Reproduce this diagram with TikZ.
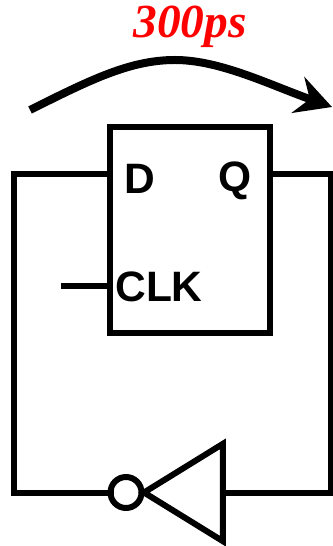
\documentclass[tikz,border=0pt]{standalone}
\usepackage{fontspec}
\setmainfont{Liberation Sans}
\newfontfamily\delayfont{Liberation Serif}
\usetikzlibrary{arrows.meta,shapes.geometric}
\tikzset{
    wire/.style={
        line width=0.12cm,
        line cap=rect,
        line join=miter
    },
    ffbox/.style={
        rectangle,
        draw,
        line width=0.12cm,
        minimum width=3.2cm,
        minimum height=4.12cm,
        outer sep=0pt
    },
    pin/.style={
        font=\bfseries\fontsize{24.2}{26}\selectfont,
        inner sep=0pt
    },
    invbody/.style={
        isosceles triangle,
        isosceles triangle stretches,
        shape border rotate=180,
        draw,
        line width=0.12cm,
        minimum width=1.95cm,
        minimum height=1.58cm,
        inner sep=0pt,
        outer sep=0pt,
        anchor=apex
    },
    bubble/.style={
        circle,
        draw,
        line width=0.12cm,
        minimum size=0.62cm,
        inner sep=0pt,
        outer sep=0pt
    }
}

\begin{document}
\begin{tikzpicture}[x=0.02cm,y=-0.02cm]
\useasboundingbox (0,0) rectangle (332,546);
\node[ffbox] (ff) at (190,230) {};
\node[pin] (d) at (139.5,179) {D};
\node[pin] (q) at (235,181) {Q};
\node[pin] (clk) at (159,287) {CLK};
\node[invbody] (inv) at (144,492.5) {};
\node[bubble] (bub) at (126,492.5) {};
\coordinate (topl) at (14,174);
\coordinate (botl) at (14,492.5);
\coordinate (topr) at (331,174);
\coordinate (botr) at (331,492.5);
\coordinate (clkin) at (64,286);
\draw[wire] (ff.west |- topl) -- (topl) -- (botl) -- (bub);
\draw[wire] (ff.east |- topr) -- (topr) -- (botr) -- (inv.lower side);
\draw[wire] (clkin) -- (ff.west |- clkin);
\coordinate (arcl) at (30,110);
\coordinate (arctop) at (175,60);
\coordinate (arcr) at (332,107);
\draw[line width=0.16cm,-{Stealth[length=0.72cm,width=0.76cm,inset=0.25cm]}]
  (arcl) .. controls (90,80) and (130,60) .. (arctop)
  .. controls (220,60) and (270,85) .. (arcr);
\node[red,font=\delayfont\bfseries\itshape\fontsize{27}{30}\selectfont,inner sep=0pt] (delay) at (190,27) {300ps};
\end{tikzpicture}
\end{document}
